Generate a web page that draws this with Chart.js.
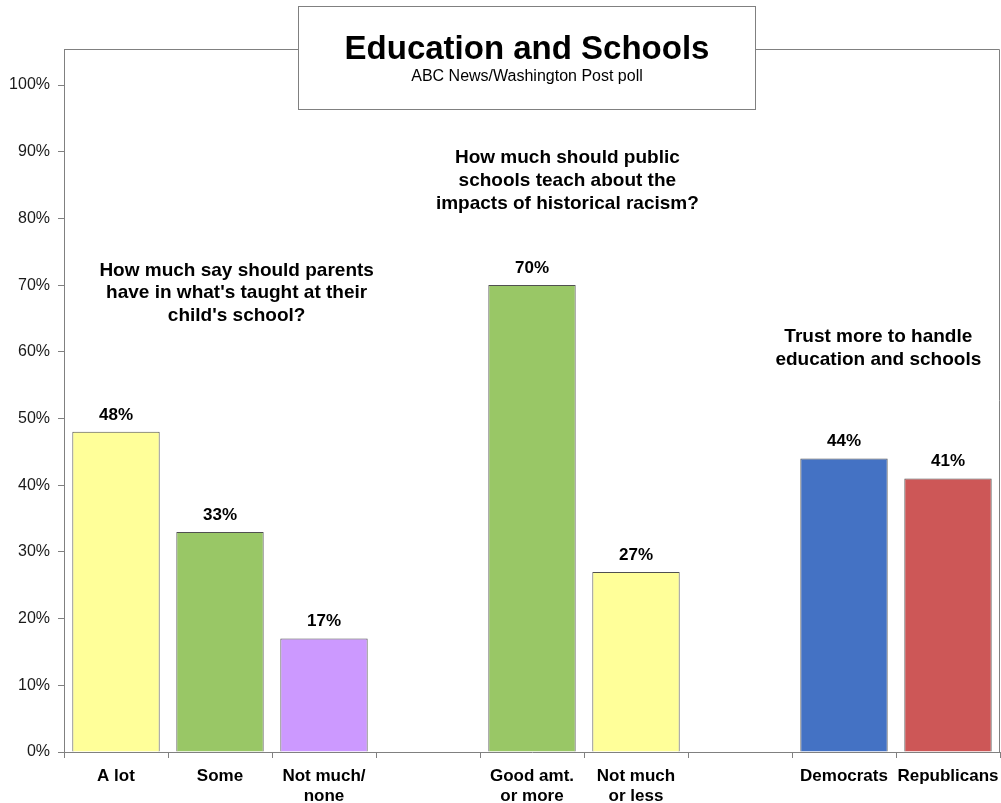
<!DOCTYPE html>
<html>
<head>
<meta charset="utf-8">
<script src="https://cdn.jsdelivr.net/npm/chart.js@4/dist/chart.umd.min.js"></script>
<style>
  html, body { margin: 0; padding: 0; background: #fff; }
  #wrap { width: 1001px; height: 803px; }
</style>
</head>
<body>
<div id="wrap"><canvas id="c" width="1001" height="803"></canvas></div>
<script>
// categories (empty slots are the gaps between question groups)
const categories = [
    ['A lot'], ['Some'], ['Not much/', 'none'], [''],
    ['Good amt.', 'or more'], ['Not much', 'or less'], [''],
    ['Democrats'], ['Republicans']
];
const values = [48, 33, 17, null, 70, 27, null, 44, 41];
const barColors = ['#FFFF99', '#99C766', '#CC99FF', '#ffffff', '#99C766', '#FFFF99', '#ffffff', '#4472C4', '#CD5757'];
const yTicks = [0, 10, 20, 30, 40, 50, 60, 70, 80, 90, 100];

const titleText = 'Education and Schools';
const subtitleText = 'ABC News/Washington Post poll';

// group questions: text lines and the category index they sit over
const questions = [
    { lines: ["How much say should parents", "have in what's taught at their", "child's school?"], at: 1.16, value: 72.2 },
    { lines: ["How much should public", "schools teach about the", "impacts of historical racism?"], at: 4.34, value: 89.1 },
    { lines: ["Trust more to handle", "education and schools"], at: 7.33, value: 62.2 }
];

const FONT = '"Liberation Sans", Arial, sans-serif';

const extrasPlugin = {
    id: 'extras',
    afterDatasetsDraw(chart) {
        const ctx = chart.ctx;
        const area = chart.chartArea;
        const x = chart.scales.x;
        const y = chart.scales.y;

        // frame top + right
        ctx.save();
        ctx.strokeStyle = '#808080';
        ctx.lineWidth = 1;
        ctx.beginPath();
        ctx.moveTo(area.left, area.top + 0.5);
        ctx.lineTo(area.right - 0.5, area.top + 0.5);
        ctx.lineTo(area.right - 0.5, area.bottom);
        ctx.stroke();

        // value labels
        ctx.fillStyle = '#000';
        ctx.font = 'bold 17px ' + FONT;
        ctx.textAlign = 'center';
        ctx.textBaseline = 'middle';
        const meta = chart.getDatasetMeta(0);
        values.forEach((v, i) => {
            if (v === null) return;
            const bar = meta.data[i];
            ctx.fillText(v + '%', bar.x, bar.y - 17);
        });

        // question annotations
        ctx.font = 'bold 19px ' + FONT;
        questions.forEach(q => {
            const cx = x.getPixelForValue(q.at);
            const top = y.getPixelForValue(q.value);
            q.lines.forEach((line, k) => {
                ctx.fillText(line, cx, top + k * 22.8);
            });
        });

        // title box
        const bx = 298.5, by = 6.5, bw = 457, bh = 103;
        ctx.fillStyle = '#fff';
        ctx.fillRect(bx, by, bw, bh);
        ctx.strokeStyle = '#808080';
        ctx.strokeRect(bx, by, bw, bh);
        ctx.fillStyle = '#000';
        ctx.font = 'bold 33px ' + FONT;
        ctx.fillText(titleText, bx + bw / 2, 50);
        ctx.font = '16px ' + FONT;
        ctx.fillText(subtitleText, bx + bw / 2, 77);
        ctx.restore();
    }
};

new Chart(document.getElementById('c'), {
    type: 'bar',
    data: {
        labels: categories,
        datasets: [{
            data: values,
            backgroundColor: barColors,
            borderColor: '#505050',
            borderWidth: 1,
            borderSkipped: 'bottom',
            categoryPercentage: 1,
            barPercentage: 0.84
        }]
    },
    options: {
        responsive: false,
        animation: false,
        devicePixelRatio: 1,
        layout: { padding: { top: 49, right: 1, left: 0, bottom: 0 } },
        plugins: {
            legend: { display: false },
            tooltip: { enabled: false },
            title: { display: false }
        },
        scales: {
            x: {
                offset: true,
                afterFit(scale) {
                    scale.height = 51;
                    scale.paddingLeft = 0;
                    scale.paddingRight = 0;
                },
                grid: {
                    offset: true,
                    drawOnChartArea: false,
                    drawTicks: true,
                    tickLength: 6,
                    color: '#808080'
                },
                border: { color: '#808080', width: 1 },
                ticks: {
                    color: '#000',
                    padding: 8,
                    maxRotation: 0,
                    autoSkip: false,
                    font: { family: FONT, size: 17, weight: 'bold', lineHeight: 1.2 }
                }
            },
            y: {
                min: 0,
                max: 105.4,
                afterFit(scale) { scale.width = 64; },
                afterBuildTicks(scale) {
                    scale.ticks = yTicks.map(v => ({ value: v }));
                },
                grid: {
                    drawOnChartArea: false,
                    drawTicks: true,
                    tickLength: 6,
                    color: '#808080'
                },
                border: { color: '#808080', width: 1 },
                ticks: {
                    color: '#1a1a1a',
                    padding: 8,
                    font: { family: FONT, size: 16 },
                    callback: v => v + '%'
                }
            }
        }
    },
    plugins: [extrasPlugin]
});
</script>
</body>
</html>
